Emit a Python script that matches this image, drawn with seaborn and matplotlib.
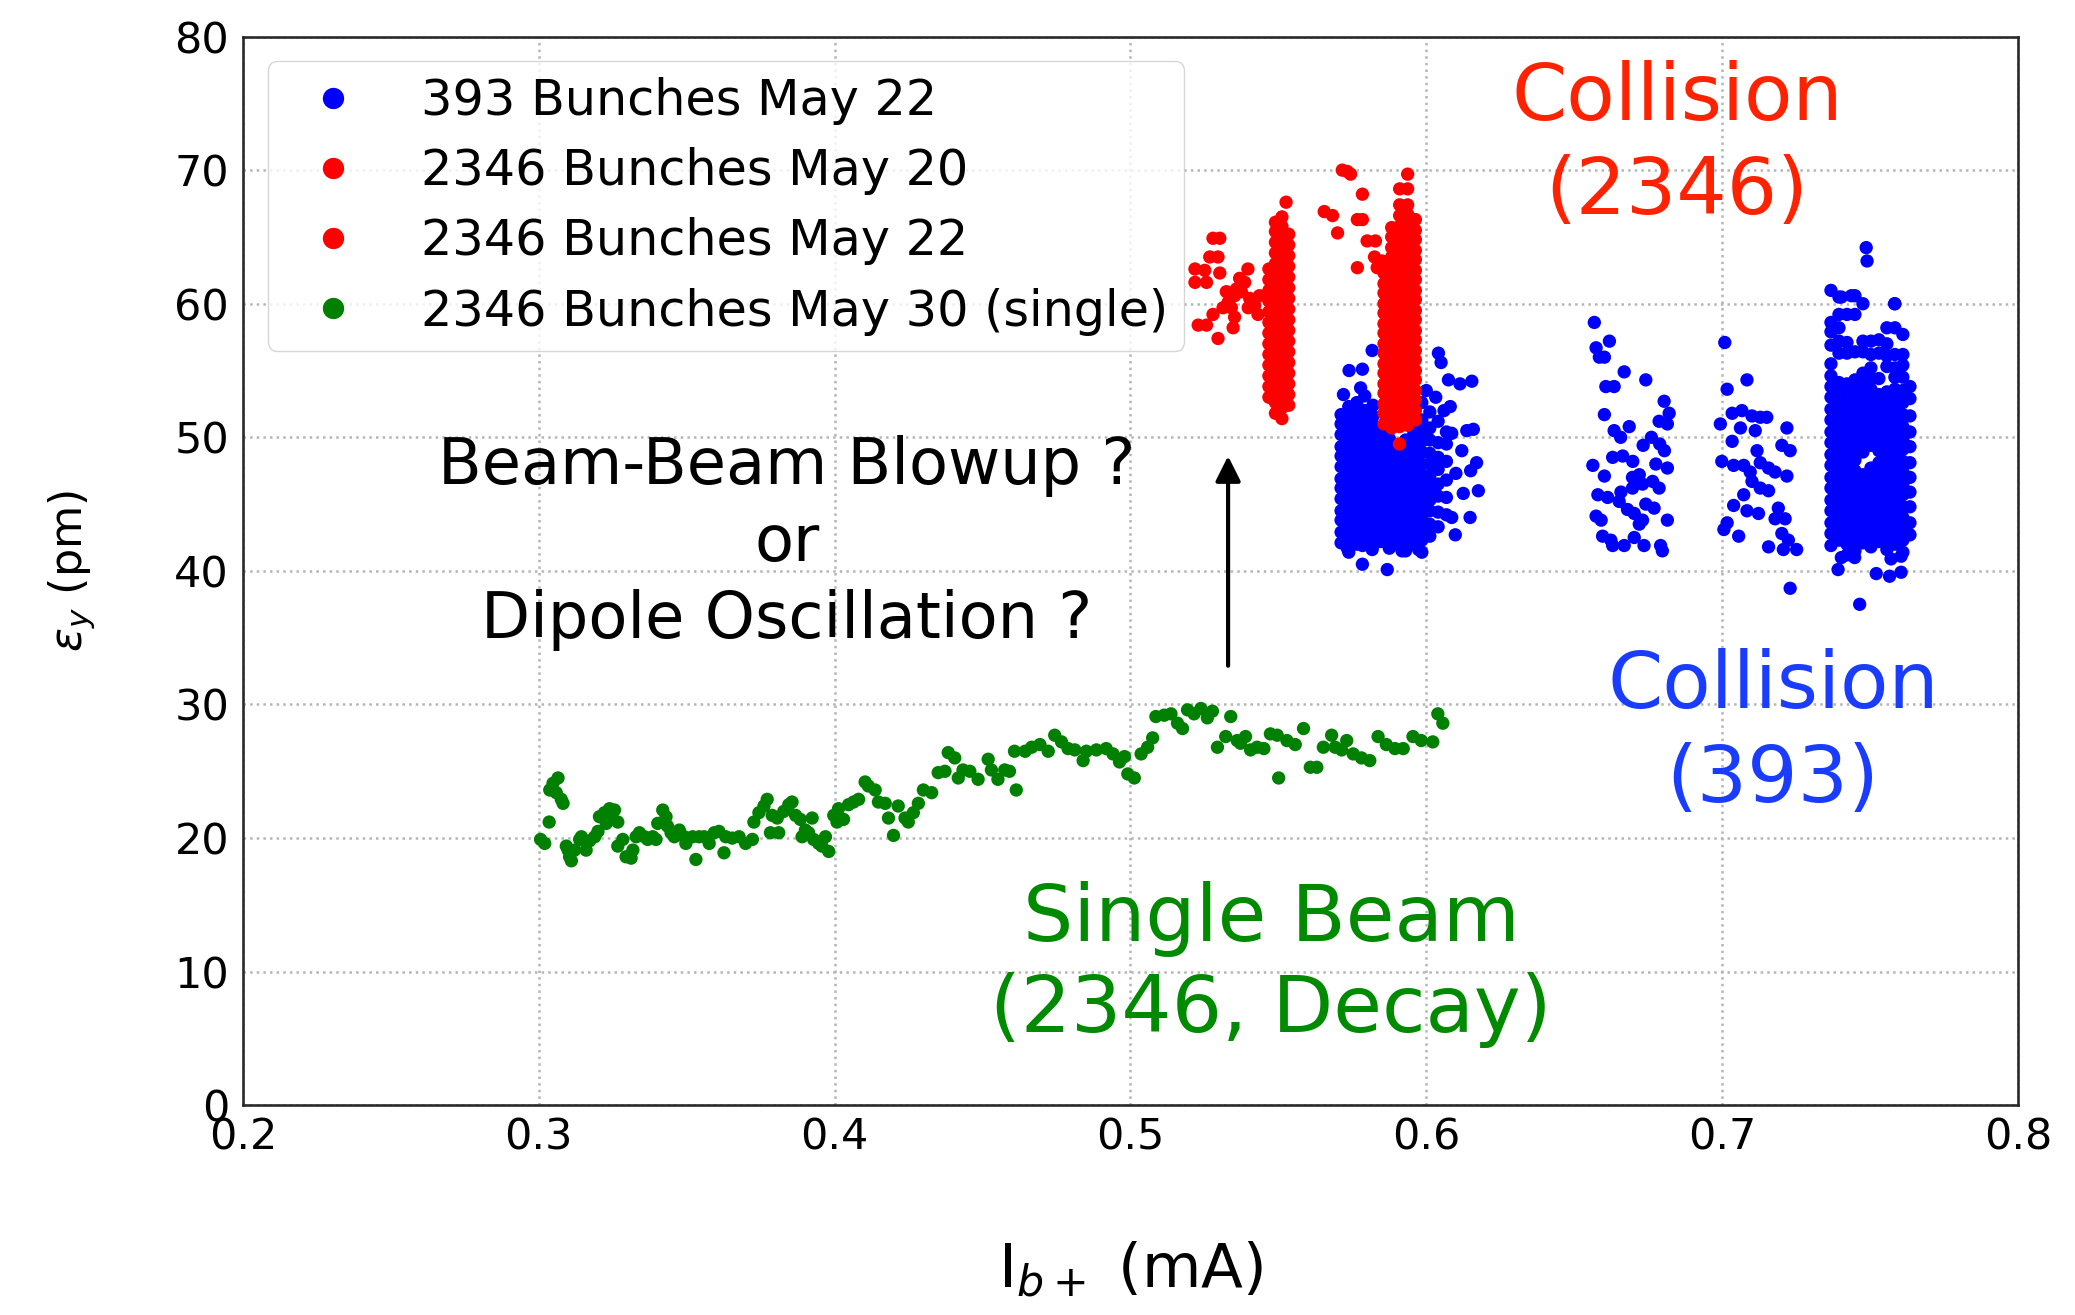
import matplotlib
matplotlib.use("Agg")
import matplotlib.pyplot as plt
import seaborn as sns
import pandas as pd

# ---------------------------------------------------------------------------
# Data: vertical emittance (pm) versus bunch current I_b+ (mA)
# Dense columns are stored as (current, [emittances...]) strips.
# ---------------------------------------------------------------------------
series_labels = ["393 Bunches May 22", "2346 Bunches May 20",
                 "2346 Bunches May 22", "2346 Bunches May 30 (single)"]
series_colors = ["#0000ff", "#ff0000", "#ff0000", "#008000"]

x_ticks = [0.2, 0.3, 0.4, 0.5, 0.6, 0.7, 0.8]
y_ticks = [0, 10, 20, 30, 40, 50, 60, 70, 80]

# 393 bunches, May 22 -- first group around 0.57-0.62 mA
blue_a_strips = [
    (0.5712, [42.1, 42.9, 43.8, 44.5, 45.4, 46.2, 46.9, 47.8, 48.6, 49.3, 50.2, 51.0, 51.7]),
    (0.5738, [41.4, 42.5, 43.3, 44.1, 45.0, 45.8, 46.6, 47.4, 48.2, 49.0, 49.8, 50.6, 51.4, 52.3]),
    (0.5765, [42.0, 42.8, 43.6, 44.5, 45.3, 46.0, 46.9, 47.7, 48.5, 49.4, 50.1, 50.9, 51.8, 52.6]),
    (0.5792, [42.4, 43.2, 44.0, 44.8, 45.7, 46.5, 47.3, 48.1, 48.9, 49.7, 50.5, 51.3, 52.0, 53.1]),
    (0.5820, [41.9, 42.7, 43.6, 44.3, 45.1, 46.0, 46.8, 47.6, 48.4, 49.2, 50.0, 50.9, 51.6, 52.4]),
    (0.5847, [42.2, 43.0, 43.9, 44.7, 45.5, 46.3, 47.1, 47.9, 48.8, 49.6, 50.4]),
    (0.5875, [41.7, 42.6, 43.4, 44.2, 45.0, 45.9, 46.7, 47.5, 48.3, 49.1, 49.9]),
    (0.5903, [42.0, 42.9, 43.7, 44.5, 45.3, 46.1, 47.0, 47.8, 48.6, 49.4]),
    (0.5930, [41.5, 42.4, 43.2, 44.0, 44.9, 45.7, 46.5, 47.3, 48.1, 48.9, 49.8]),
    (0.5958, [42.1, 42.9, 43.8, 44.6, 45.4, 46.2, 47.0, 47.9, 48.7, 49.5, 50.3, 51.2, 52.0]),
    (0.5985, [41.4, 42.3, 43.1, 43.9, 44.8, 45.6, 46.4, 47.2, 48.0, 48.9, 49.7, 50.5, 51.3, 52.6]),
    (0.6012, [42.6, 43.5, 44.5, 45.3, 46.2, 47.1, 48.0, 48.8, 49.8, 50.7, 51.9]),
    (0.6040, [43.3, 44.4, 45.6, 46.5, 47.6, 48.5, 49.6, 51.2]),
    (0.6068, [44.2, 45.5, 46.8, 48.2, 49.5, 50.4]),
]
blue_a_pts = [
    (0.5817, 56.5), (0.6041, 56.3), (0.6050, 55.6), (0.5739, 55.0), (0.5784, 55.1),
    (0.5778, 53.7), (0.6075, 54.3), (0.6114, 54.0), (0.6154, 54.2), (0.6081, 52.3),
    (0.6000, 53.5), (0.6032, 53.0), (0.6137, 50.5), (0.6159, 50.6), (0.6086, 50.3),
    (0.6170, 48.1), (0.6176, 46.0), (0.6148, 44.0), (0.6098, 42.7), (0.6086, 44.0),
    (0.6100, 47.3), (0.6125, 45.8), (0.5733, 41.7), (0.5784, 41.9), (0.5817, 41.6),
    (0.5784, 40.5), (0.5868, 40.1), (0.5918, 41.5), (0.5974, 41.6), (0.5720, 53.2),
    (0.6060, 52.0), (0.6120, 49.0), (0.6150, 47.5),
]
# second group around 0.66-0.68 mA
blue_b_pts = [
    (0.6568, 58.6), (0.6619, 57.2), (0.6574, 56.7), (0.6585, 56.0), (0.6602, 56.0),
    (0.6669, 54.9), (0.6742, 54.3), (0.6607, 53.8), (0.6635, 53.8), (0.6804, 52.7),
    (0.6821, 51.8), (0.6787, 51.2), (0.6815, 51.0), (0.6602, 51.7), (0.6686, 50.8),
    (0.6635, 50.5), (0.6657, 50.0), (0.6761, 50.0), (0.6733, 49.4), (0.6789, 49.5),
    (0.6805, 49.0), (0.6630, 48.5), (0.6664, 48.6), (0.6698, 48.2), (0.6563, 47.9),
    (0.6776, 48.0), (0.6815, 47.7), (0.6602, 47.1), (0.6697, 47.0), (0.6720, 47.2),
    (0.6731, 46.5), (0.6765, 46.7), (0.6787, 46.2), (0.6580, 45.7), (0.6613, 45.5),
    (0.6658, 45.9), (0.6652, 45.2), (0.6697, 46.2), (0.6742, 45.0), (0.6770, 44.7),
    (0.6680, 44.6), (0.6703, 44.3), (0.6574, 44.1), (0.6591, 43.8), (0.6731, 43.8),
    (0.6815, 43.8), (0.6596, 42.6), (0.6624, 42.3), (0.6630, 41.9), (0.6669, 41.9),
    (0.6703, 42.5), (0.6736, 41.9), (0.6792, 41.9), (0.6798, 41.5), (0.6720, 43.5),
]
# third group around 0.70-0.73 mA
blue_c_pts = [
    (0.7009, 57.1), (0.7084, 54.3), (0.7017, 53.6), (0.7034, 51.8), (0.7067, 52.0),
    (0.7101, 51.6), (0.7129, 51.5), (0.7151, 51.5), (0.6994, 51.0), (0.7062, 50.7),
    (0.7112, 50.5), (0.7219, 50.7), (0.7034, 49.7), (0.7118, 49.0), (0.7202, 49.4),
    (0.7230, 49.0), (0.6999, 48.2), (0.7039, 47.9), (0.7073, 47.9), (0.7129, 48.1),
    (0.7157, 47.7), (0.7179, 47.4), (0.7219, 47.1), (0.7095, 47.4), (0.7101, 46.7),
    (0.7073, 45.7), (0.7129, 46.2), (0.7157, 46.0), (0.7039, 44.9), (0.7084, 44.5),
    (0.7123, 44.3), (0.7190, 44.7), (0.7179, 43.9), (0.7213, 43.9), (0.7017, 43.6),
    (0.7006, 43.1), (0.7056, 42.6), (0.7157, 41.8), (0.7202, 42.8), (0.7224, 42.3),
    (0.7207, 41.6), (0.7252, 41.6), (0.7230, 38.7),
]
# fourth group around 0.735-0.765 mA
blue_d_strips = [
    (0.7368, [41.9, 42.8, 43.6, 44.5, 45.3, 46.2, 47.0, 47.9, 48.7, 49.6, 50.4, 51.3, 52.1,
              53.0, 53.8, 54.6, 55.5, 56.9, 57.9, 58.6, 61.0]),
    (0.7395, [42.3, 43.1, 44.0, 44.8, 45.7, 46.5, 47.4, 48.2, 49.1, 49.9, 50.8, 51.6, 52.4,
              53.3, 54.1, 56.3, 57.2, 58.2, 59.2, 60.5]),
    (0.7422, [41.2, 42.0, 42.9, 43.7, 44.6, 45.4, 46.3, 47.1, 48.0, 48.8, 49.7, 50.5, 51.4,
              52.2, 53.1, 54.0, 56.3, 57.1, 59.2]),
    (0.7449, [41.5, 42.4, 43.2, 44.1, 44.9, 45.8, 46.6, 47.5, 48.3, 49.2, 50.0, 50.9, 51.8,
              52.6, 53.5, 54.3, 56.4, 59.2, 60.6]),
    (0.7476, [42.1, 42.9, 43.8, 44.6, 45.5, 46.3, 47.2, 48.9, 49.7, 50.6, 51.4, 52.3,
              53.2, 54.0, 54.8, 56.4, 57.2, 60.0]),
    (0.7503, [41.8, 42.6, 43.5, 44.3, 45.2, 46.0, 46.9, 47.7, 49.4, 50.3, 51.1, 52.0,
              52.8, 53.6, 54.4, 55.2, 56.2, 57.2]),
    (0.7530, [42.2, 43.0, 43.9, 44.7, 45.6, 46.4, 47.3, 48.1, 49.0, 49.8, 50.7, 51.5, 52.4,
              53.2, 54.4, 56.3, 57.3]),
    (0.7557, [41.6, 42.5, 43.3, 44.2, 45.0, 45.9, 46.7, 47.6, 48.4, 49.3, 50.1, 51.0, 51.8,
              52.6, 53.4, 55.3, 56.1, 57.0, 58.2]),
    (0.7584, [42.0, 42.8, 43.7, 44.5, 45.4, 46.2, 47.1, 47.9, 48.8, 49.6, 50.5, 51.3, 52.2,
              53.0, 53.6, 54.5, 55.2, 56.2, 58.2, 60.0]),
    (0.7611, [41.4, 42.3, 43.1, 44.0, 44.8, 45.7, 46.5, 47.4, 48.2, 49.1, 49.9, 50.8, 51.7,
              52.6, 53.5, 54.5, 55.4, 56.2, 57.7]),
    (0.7635, [42.7, 43.6, 44.8, 45.9, 47.0, 48.1, 49.3, 50.4, 51.6, 52.9, 53.8]),
]
blue_d_pts = [
    (0.7487, 64.2), (0.7490, 63.2), (0.7465, 37.5), (0.7392, 40.1), (0.7521, 39.8),
    (0.7566, 39.6), (0.7605, 39.9), (0.7403, 41.0), (0.7448, 41.0), (0.7605, 41.1),
    (0.7571, 40.9), (0.7403, 60.5), (0.7437, 60.6), (0.7583, 60.0),
]

# 2346 bunches, May 20
red20_strips = [
    (0.5468, [53.0, 53.8, 54.6, 55.4, 56.2, 57.0, 57.8, 58.6, 59.4, 60.2, 61.0, 61.8, 62.6]),
    (0.5490, [51.8, 52.6, 53.4, 54.2, 55.0, 55.8, 56.6, 57.4, 58.2, 59.0, 59.8, 60.6, 61.4,
              62.2, 63.0, 63.8, 64.6, 65.4, 66.1]),
    (0.5512, [51.4, 52.2, 53.0, 53.8, 54.6, 55.4, 56.2, 57.0, 57.8, 58.6, 59.4, 60.2, 61.0,
              61.8, 62.6, 63.4, 64.2, 65.0, 65.8, 66.5]),
    (0.5535, [52.4, 53.2, 54.0, 54.8, 55.6, 56.4, 57.2, 58.0, 58.8, 59.6, 60.4, 61.2, 62.0,
              62.8, 63.6, 64.4, 65.2]),
]
red20_pts = [
    (0.5526, 67.6), (0.5279, 64.9), (0.5302, 64.9), (0.5268, 63.5), (0.5296, 63.5),
    (0.5302, 62.3), (0.5251, 62.5), (0.5218, 62.6), (0.5218, 61.6), (0.5229, 58.4),
    (0.5257, 61.6), (0.5257, 58.4), (0.5279, 59.2), (0.5296, 57.4), (0.5330, 60.1),
    (0.5347, 58.2), (0.5352, 59.0), (0.5369, 61.9), (0.5375, 60.9), (0.5386, 61.6),
    (0.5397, 62.6), (0.5403, 60.4), (0.5420, 59.9), (0.5431, 59.2), (0.5324, 60.9),
    (0.5352, 60.6), (0.5398, 59.7), (0.5358, 61.1), (0.5313, 59.7), (0.5341, 59.7),
    (0.5436, 60.6),
]

# 2346 bunches, May 22
red22_strips = [
    (0.5857, [51.0, 51.8, 52.5, 53.3, 54.0, 54.8, 55.5, 56.3, 57.0, 57.8, 58.5, 59.3, 60.0,
              60.8, 61.5, 62.3]),
    (0.5883, [50.7, 51.5, 52.2, 53.0, 53.7, 54.5, 55.2, 56.0, 56.7, 57.5, 58.2, 59.0, 59.7,
              60.5, 61.2, 62.0, 62.7, 63.5, 64.2, 65.0, 65.7]),
    (0.5910, [50.8, 51.6, 52.3, 53.1, 53.8, 54.6, 55.3, 56.1, 56.8, 57.6, 58.3, 59.1, 59.8,
              60.6, 61.3, 62.1, 62.8, 63.6, 64.3, 65.1, 65.8, 66.6, 67.4, 68.6]),
    (0.5937, [50.9, 51.7, 52.4, 53.2, 53.9, 54.7, 55.4, 56.2, 56.9, 57.7, 58.4, 59.2, 59.9,
              60.7, 61.4, 62.2, 62.9, 63.7, 64.4, 65.2, 65.9, 66.7, 67.4, 68.6, 69.7]),
    (0.5963, [51.3, 52.0, 52.8, 53.5, 54.3, 55.0, 55.8, 56.5, 57.3, 58.0, 58.8, 59.5, 60.3,
              61.0, 61.8, 62.5, 63.3, 64.0, 64.8, 65.5, 66.3]),
]
red22_pts = [
    (0.5909, 49.5), (0.5716, 70.0), (0.5744, 69.7), (0.5733, 69.9), (0.5784, 68.2),
    (0.5655, 66.9), (0.5683, 66.6), (0.5767, 66.3), (0.5784, 66.3), (0.5700, 65.3),
    (0.5800, 64.7), (0.5828, 64.7), (0.5767, 62.7), (0.5834, 62.7), (0.5825, 63.5),
    (0.5851, 63.2),
]

# 2346 bunches, May 30, single beam (current decay)
green_pts = [
    (0.3006, 19.9), (0.3020, 19.6), (0.3035, 21.2), (0.3037, 23.6), (0.3048, 24.1),
    (0.3065, 24.5), (0.3059, 23.4), (0.3076, 22.9), (0.3082, 22.6), (0.3093, 19.4),
    (0.3104, 18.6), (0.3110, 18.3), (0.3099, 19.1), (0.3121, 19.1), (0.3138, 19.9),
    (0.3144, 20.1), (0.3160, 19.1), (0.3172, 19.8), (0.3189, 20.1), (0.3200, 20.5),
    (0.3205, 21.6), (0.3222, 21.9), (0.3239, 22.2), (0.3256, 22.1), (0.3250, 21.4),
    (0.3228, 21.1), (0.3267, 21.2), (0.3267, 19.4), (0.3284, 19.9), (0.3295, 18.6),
    (0.3312, 18.5), (0.3318, 19.1), (0.3329, 20.1), (0.3340, 20.4), (0.3357, 20.1),
    (0.3368, 19.9), (0.3385, 20.1), (0.3396, 19.9), (0.3402, 21.1), (0.3419, 22.1),
    (0.3430, 21.6), (0.3435, 20.9), (0.3447, 20.4), (0.3458, 20.1), (0.3475, 20.6),
    (0.3492, 20.1), (0.3497, 19.6), (0.3520, 20.1), (0.3531, 18.4), (0.3542, 20.1),
    (0.3559, 20.1), (0.3576, 19.6), (0.3593, 20.4), (0.3609, 20.5), (0.3626, 18.9),
    (0.3632, 20.1), (0.3654, 20.0), (0.3677, 20.1), (0.3699, 19.6), (0.3722, 19.9),
    (0.3727, 21.2), (0.3744, 21.9), (0.3761, 22.4), (0.3772, 22.9), (0.3783, 20.4),
    (0.3789, 21.7), (0.3806, 21.5), (0.3811, 20.4), (0.3828, 22.0), (0.3845, 22.5),
    (0.3856, 22.7), (0.3868, 21.7), (0.3884, 21.4), (0.3890, 20.1), (0.3901, 20.6),
    (0.3912, 20.4), (0.3924, 21.5), (0.3929, 19.9), (0.3946, 19.6), (0.3957, 19.4),
    (0.3969, 20.1), (0.3980, 19.0), (0.3997, 21.7), (0.4008, 21.2), (0.4013, 22.2),
    (0.4030, 21.4), (0.4047, 22.5), (0.4064, 22.7), (0.4081, 22.9), (0.4103, 24.2),
    (0.4114, 23.9), (0.4137, 23.6), (0.4148, 22.7), (0.4171, 22.6), (0.4182, 21.5),
    (0.4199, 20.2), (0.4215, 22.4), (0.4238, 21.5), (0.4249, 21.2), (0.4266, 21.9),
    (0.4283, 22.6), (0.4300, 23.6), (0.4328, 23.4), (0.4350, 24.9), (0.4373, 25.0),
    (0.4384, 26.4), (0.4406, 26.0), (0.4418, 24.5), (0.4434, 25.1), (0.4457, 25.0),
    (0.4485, 24.4), (0.4519, 25.9), (0.4530, 25.1), (0.4552, 24.4), (0.4575, 25.1),
    (0.4591, 25.0), (0.4608, 26.5), (0.4614, 23.6), (0.4644, 26.5), (0.4666, 26.8),
    (0.4694, 27.0), (0.4722, 26.5), (0.4744, 27.7), (0.4767, 27.2), (0.4789, 26.7),
    (0.4812, 26.6), (0.4840, 25.8), (0.4851, 26.5), (0.4885, 26.6), (0.4918, 26.7),
    (0.4941, 26.3), (0.4963, 25.7), (0.4980, 26.1), (0.4991, 24.8), (0.5013, 24.5),
    (0.5036, 26.3), (0.5058, 26.8), (0.5075, 27.5), (0.5086, 29.1), (0.5114, 29.2),
    (0.5137, 29.3), (0.5159, 28.6), (0.5176, 28.2), (0.5193, 29.6), (0.5215, 29.3),
    (0.5238, 29.7), (0.5260, 29.0), (0.5277, 29.5), (0.5294, 26.8), (0.5322, 27.6),
    (0.5339, 29.1), (0.5361, 27.3), (0.5372, 27.1), (0.5389, 27.6), (0.5406, 26.6),
    (0.5428, 26.8), (0.5451, 26.7), (0.5473, 27.8), (0.5496, 27.7), (0.5501, 24.5),
    (0.5529, 27.3), (0.5557, 27.0), (0.5585, 28.2), (0.5608, 25.3), (0.5630, 25.3),
    (0.5652, 26.8), (0.5680, 27.7), (0.5692, 26.8), (0.5714, 26.6), (0.5731, 27.3),
    (0.5753, 26.3), (0.5781, 26.0), (0.5809, 25.8), (0.5837, 27.6), (0.5865, 27.0),
    (0.5894, 26.7), (0.5922, 26.7), (0.5955, 27.6), (0.5983, 27.3), (0.6022, 27.2),
    (0.6039, 29.3), (0.6056, 28.6),
]


def collect(label, strips=(), points=()):
    rows = []
    for x, ys in strips:
        rows.extend((x, y, label) for y in ys)
    rows.extend((x, y, label) for x, y in points)
    return rows


records = []
records += collect(series_labels[0], blue_a_strips, blue_a_pts)
records += collect(series_labels[0], (), blue_b_pts)
records += collect(series_labels[0], (), blue_c_pts)
records += collect(series_labels[0], blue_d_strips, blue_d_pts)
records += collect(series_labels[1], red20_strips, red20_pts)
records += collect(series_labels[2], red22_strips, red22_pts)
records += collect(series_labels[3], (), green_pts)
df = pd.DataFrame(records, columns=["current", "emittance", "series"])

# ---------------------------------------------------------------------------
# Figure
# ---------------------------------------------------------------------------
sns.set_style("white")
plt.rcParams["font.family"] = ["DejaVu Sans"]
plt.rcParams["mathtext.fontset"] = "dejavusans"
plt.rcParams["text.color"] = "black"
plt.rcParams["axes.labelcolor"] = "black"
plt.rcParams["xtick.color"] = "black"
plt.rcParams["ytick.color"] = "black"

fig = plt.figure(figsize=(20.75, 13.15), dpi=100)
ax = fig.add_axes([0.1171, 0.1595, 0.9725 - 0.1171, 0.9722 - 0.1595])

sns.scatterplot(data=df, x="current", y="emittance", hue="series",
                hue_order=series_labels, palette=series_colors,
                s=92, linewidth=0, edgecolor="none", ax=ax, legend=True)

ax.set_xlim(0.2, 0.8)
ax.set_ylim(0, 80)
ax.set_xticks(x_ticks)
ax.set_xticklabels([f"{v:.1f}" for v in x_ticks])
ax.set_yticks(y_ticks)
ax.set_yticklabels([str(v) for v in y_ticks])

ax.set_axisbelow(True)
ax.grid(True, linestyle=":", color="#b5b5b5", linewidth=1.8)
for side in ["left", "right", "top", "bottom"]:
    ax.spines[side].set_visible(True)
    ax.spines[side].set_color("#2a2a2a")
    ax.spines[side].set_linewidth(1.9)

ax.tick_params(axis="both", which="major", direction="in", length=16, width=1.6,
               color="#222222", labelcolor="black", labelsize=31)
ax.tick_params(axis="x", pad=8)
ax.tick_params(axis="y", pad=10)

ax.set_xlabel(r"I$_{b+}$ (mA)", fontsize=44, color="black")
ax.set_ylabel(r"$\epsilon_y$ (pm)", fontsize=32, color="black")
ax.xaxis.set_label_coords(0.5, -0.126)
ax.yaxis.set_label_coords(-0.082, 0.5)

# legend
old = ax.get_legend()
handles = old.legend_handles
labels = [t.get_text() for t in old.get_texts()]
old.remove()
leg = ax.legend(handles, labels, loc="upper left", fontsize=35.5, markerscale=1.6,
                labelspacing=0.45, frameon=True, framealpha=0.8, edgecolor="0.8",
                fancybox=True, handletextpad=0.8, borderpad=0.32)
for t in leg.get_texts():
    t.set_color("black")

# annotations
ax.text(0.6848, 71.9, "Collision\n(2346)", color="#ff2200", fontsize=57,
        ha="center", va="center", multialignment="center", linespacing=1.3)
ax.text(0.7172, 27.9, "Collision\n(393)", color="#1a3cff", fontsize=57,
        ha="center", va="center", multialignment="center", linespacing=1.3)
ax.text(0.5475, 10.5, "Single Beam\n(2346, Decay)", color="#008a00", fontsize=57,
        ha="center", va="center", multialignment="center", linespacing=1.25)
ax.text(0.3839, 42.1, "Beam-Beam Blowup ?\nor\nDipole Oscillation ?", color="black",
        fontsize=46, ha="center", va="center", multialignment="center", linespacing=1.3)
ax.annotate("", xy=(0.533, 48.6), xytext=(0.533, 32.9),
            arrowprops=dict(arrowstyle="-|>", color="black", lw=3,
                            mutation_scale=38, shrinkA=0, shrinkB=0))

fig.savefig("out.png", dpi=100)
